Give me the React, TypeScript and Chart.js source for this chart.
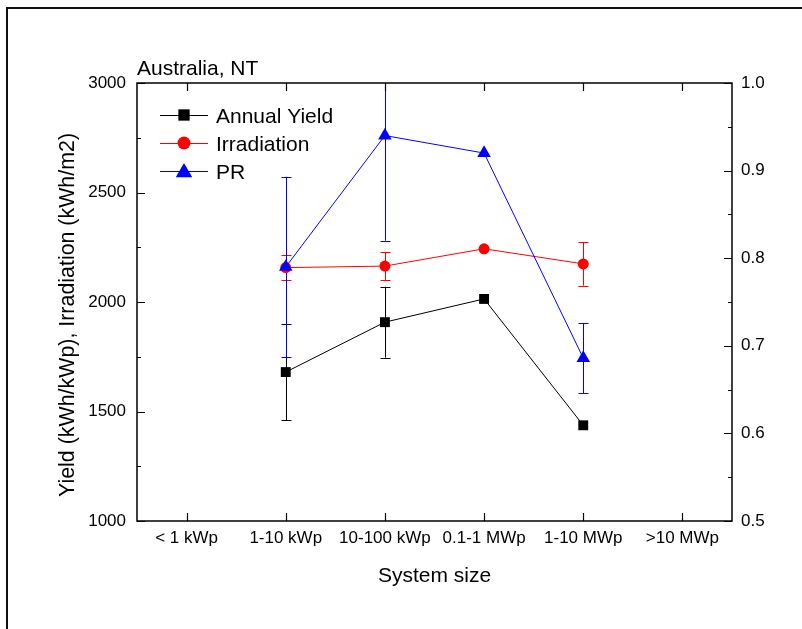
import React, { useEffect, useRef } from "react";
import { Chart, registerables } from "chart.js";

Chart.register(...registerables);

const FONT = "'Liberation Sans', Arial, sans-serif";

const categories = ["< 1 kWp", "1-10 kWp", "10-100 kWp", "0.1-1 MWp", "1-10 MWp", ">10 MWp"];
const annualYield = [null, 1680, 1908, 2014, 1437, null];
const annualYieldErr = [null, 220, 162, null, null, null];
const irradiation = [null, 2157, 2164, 2243, 2174, null];
const irradiationErr = [null, 58, 64, null, 99, null];
const performanceRatio = [null, 0.79, 0.94, 0.92, 0.686, null];
const performanceRatioErr = [null, 0.103, 0.12, null, 0.04, null];
const leftTicks = [1000, 1500, 2000, 2500, 3000];
const rightTicks = [0.5, 0.6, 0.7, 0.8, 0.9, 1.0];
const yTitle = "Yield (kWh/kWp), Irradiation (kWh/m2)";

const seriesInfo = [
  { label: "Annual Yield", color: "#000000", style: "rect" },
  { label: "Irradiation", color: "#ff0000", style: "circle" },
  { label: "PR", color: "#0000ff", style: "triangle" },
];

function drawMarker(ctx: CanvasRenderingContext2D, style: string, x: number, y: number, r: number, color: string) {
  ctx.save();
  ctx.fillStyle = color;
  ctx.beginPath();
  if (style === "rect") {
    const s = r * Math.SQRT1_2;
    ctx.rect(x - s, y - s, 2 * s, 2 * s);
  } else if (style === "circle") {
    ctx.arc(x, y, r, 0, Math.PI * 2);
  } else {
    let a = 0;
    ctx.moveTo(x + Math.sin(a) * r, y - Math.cos(a) * r);
    a += (2 * Math.PI) / 3;
    ctx.lineTo(x + Math.sin(a) * r, y - Math.cos(a) * r);
    a += (2 * Math.PI) / 3;
    ctx.lineTo(x + Math.sin(a) * r, y - Math.cos(a) * r);
    ctx.closePath();
  }
  ctx.fill();
  ctx.restore();
}

const decorPlugin = {
  id: "decor",
  beforeDatasetsDraw(chart: any) {
    const { ctx, chartArea, scales } = chart;
    const x = scales.x;
    const groups = [
      { vals: annualYield, errs: annualYieldErr, axis: scales.y, color: seriesInfo[0].color },
      { vals: irradiation, errs: irradiationErr, axis: scales.y, color: seriesInfo[1].color },
      { vals: performanceRatio, errs: performanceRatioErr, axis: scales.y2, color: seriesInfo[2].color },
    ];
    ctx.save();
    ctx.beginPath();
    ctx.rect(chartArea.left, chartArea.top, chartArea.right - chartArea.left, chartArea.bottom - chartArea.top);
    ctx.clip();
    ctx.lineWidth = 1;
    for (const g of groups) {
      ctx.strokeStyle = g.color;
      g.vals.forEach((v, i) => {
        const e = g.errs[i];
        if (v == null || e == null) return;
        const px = Math.round(x.getPixelForValue(i)) + 0.5;
        const yt = g.axis.getPixelForValue(v + e);
        const yb = g.axis.getPixelForValue(v - e);
        ctx.beginPath();
        ctx.moveTo(px, yt);
        ctx.lineTo(px, yb);
        ctx.moveTo(px - 5, Math.round(yt) + 0.5);
        ctx.lineTo(px + 5, Math.round(yt) + 0.5);
        ctx.moveTo(px - 5, Math.round(yb) + 0.5);
        ctx.lineTo(px + 5, Math.round(yb) + 0.5);
        ctx.stroke();
      });
    }
    ctx.restore();
  },
  afterDraw(chart: any) {
    const { ctx, chartArea, scales } = chart;
    const { left, right, top, bottom } = chartArea;
    ctx.save();
    // outer figure border
    ctx.strokeStyle = "#111";
    ctx.lineWidth = 2;
    ctx.strokeRect(7, 8, 2000, 2000);
    // plot frame
    ctx.strokeStyle = "#000";
    ctx.lineWidth = 1.5;
    ctx.strokeRect(left, top, right - left, bottom - top);
    ctx.lineWidth = 1.2;
    ctx.beginPath();
    categories.forEach((_, i) => {
      const px = Math.round(scales.x.getPixelForValue(i)) + 0.5;
      ctx.moveTo(px, bottom);
      ctx.lineTo(px, bottom - 8);
      ctx.moveTo(px, top);
      ctx.lineTo(px, top + 8);
    });
    for (let v = 1000; v <= 3000; v += 250) {
      const py = Math.round(scales.y.getPixelForValue(v)) + 0.5;
      const len = v % 500 === 0 ? 8 : 4;
      ctx.moveTo(left, py);
      ctx.lineTo(left + len, py);
    }
    for (let k = 0; k <= 10; k++) {
      const v = 0.5 + k * 0.05;
      const py = Math.round(scales.y2.getPixelForValue(v)) + 0.5;
      const len = k % 2 === 0 ? 8 : 4;
      ctx.moveTo(right, py);
      ctx.lineTo(right - len, py);
    }
    ctx.stroke();
    // title
    ctx.fillStyle = "#000";
    ctx.font = `21px ${FONT}`;
    ctx.textBaseline = "alphabetic";
    ctx.textAlign = "left";
    ctx.fillText("Australia, NT", left, 75);
    // y axis title
    ctx.save();
    ctx.translate(68, 315);
    ctx.rotate(-Math.PI / 2);
    ctx.textAlign = "center";
    ctx.textBaseline = "middle";
    ctx.font = `21.4px ${FONT}`;
    ctx.fillText(yTitle, 0, 0);
    ctx.restore();
    // legend
    const rows = [115, 143, 171];
    const sizes = [8, 6.5, 9.5];
    ctx.textAlign = "left";
    ctx.textBaseline = "alphabetic";
    seriesInfo.forEach((s, i) => {
      const y = rows[i];
      ctx.strokeStyle = s.color;
      ctx.lineWidth = 1;
      ctx.beginPath();
      ctx.moveTo(160, y + 0.5);
      ctx.lineTo(208, y + 0.5);
      ctx.stroke();
      drawMarker(ctx, s.style, 184, s.style === "triangle" ? y + 1.5 : y, sizes[i], s.color);
      ctx.fillStyle = "#000";
      ctx.font = `21px ${FONT}`;
      ctx.fillText(s.label, 216, y + 8);
    });
    ctx.restore();
  },
};

export default function App() {
  const ref = useRef<HTMLCanvasElement | null>(null);
  useEffect(() => {
    document.body.style.margin = "0";
    document.body.style.overflow = "hidden";
    const canvas = ref.current;
    if (!canvas) return;
    const tickFont = { family: FONT, size: 17 };
    const titleFont = { family: FONT, size: 21 };
    const chart = new Chart(canvas, {
      type: "line",
      data: {
        labels: categories,
        datasets: [
          {
            label: seriesInfo[0].label,
            data: annualYield,
            yAxisID: "y",
            borderColor: seriesInfo[0].color,
            backgroundColor: seriesInfo[0].color,
            borderWidth: 1,
            pointStyle: "rect",
            pointRadius: 7,
            pointBorderWidth: 0,
            order: 2,
          },
          {
            label: seriesInfo[1].label,
            data: irradiation,
            yAxisID: "y",
            borderColor: seriesInfo[1].color,
            backgroundColor: seriesInfo[1].color,
            borderWidth: 1,
            pointStyle: "circle",
            pointRadius: 5.5,
            pointBorderWidth: 0,
            order: 1,
          },
          {
            label: seriesInfo[2].label,
            data: performanceRatio,
            yAxisID: "y2",
            borderColor: seriesInfo[2].color,
            backgroundColor: seriesInfo[2].color,
            borderWidth: 1,
            pointStyle: "triangle",
            pointRadius: 7.8,
            pointBorderWidth: 0,
            order: 0,
          },
        ] as any,
      },
      options: {
        responsive: false,
        animation: false,
        layout: { padding: { top: 83, left: 0, right: 0, bottom: 0 } },
        plugins: {
          legend: { display: false },
          title: { display: false },
          tooltip: { enabled: false },
        },
        scales: {
          x: {
            type: "category",
            offset: true,
            grid: { display: false, drawTicks: false },
            border: { display: false },
            ticks: { color: "#000", font: tickFont, padding: 7, maxRotation: 0, autoSkip: false },
            title: { display: true, text: "System size", color: "#000", font: titleFont, padding: { top: 0, bottom: 40 } },
            afterFit: (s: any) => {
              s.height = 108;
            },
          },
          y: {
            type: "linear",
            position: "left",
            min: 1000,
            max: 3000,
            grid: { display: false, drawTicks: false },
            border: { display: false },
            afterBuildTicks: (s: any) => {
              s.ticks = leftTicks.map((v) => ({ value: v }));
            },
            ticks: { color: "#000", font: tickFont, padding: 11, callback: (v: any) => String(v) },
            title: { display: false },
            afterFit: (s: any) => {
              s.width = 137;
            },
          },
          y2: {
            type: "linear",
            position: "right",
            min: 0.5,
            max: 1.0,
            grid: { display: false, drawTicks: false },
            border: { display: false },
            afterBuildTicks: (s: any) => {
              s.ticks = rightTicks.map((v) => ({ value: v }));
            },
            ticks: {
              color: "#000",
              font: tickFont,
              padding: 9,
              callback: (v: any) => Number(v).toFixed(1),
            },
            afterFit: (s: any) => {
              s.width = 70;
            },
          },
        },
      } as any,
      plugins: [decorPlugin],
    });
    return () => chart.destroy();
  }, []);
  return (
    <div style={{ width: 802, height: 629, background: "#fff" }}>
      <canvas ref={ref} width={802} height={629} style={{ display: "block" }} />
    </div>
  );
}
